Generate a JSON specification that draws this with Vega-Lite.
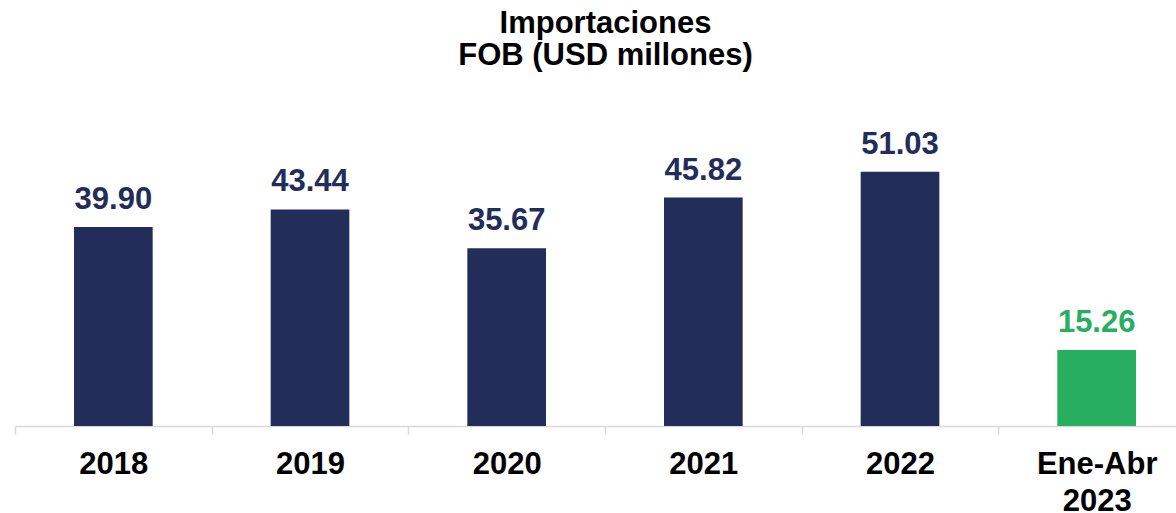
{
  "$schema": "https://vega.github.io/schema/vega-lite/v6.json",
  "autosize": {"type": "none"},
  "width": 1161,
  "height": 326,
  "padding": {"left": 15, "top": 100, "right": 0, "bottom": 87},
  "background": "white",
  "title": {
    "text": ["Importaciones", "FOB (USD millones)"],
    "font": "Liberation Sans",
    "fontSize": 31,
    "fontWeight": "bold",
    "lineHeight": 32,
    "color": "#000000",
    "anchor": "middle",
    "dx": 10,
    "offset": 28
  },
  "config": {
    "view": {"stroke": null},
    "font": "Liberation Sans"
  },
  "data": {
    "values": [
      {"periodo": "2018", "valor": 39.90, "tipo": "anual"},
      {"periodo": "2019", "valor": 43.44, "tipo": "anual"},
      {"periodo": "2020", "valor": 35.67, "tipo": "anual"},
      {"periodo": "2021", "valor": 45.82, "tipo": "anual"},
      {"periodo": "2022", "valor": 51.03, "tipo": "anual"},
      {"periodo": "Ene-Abr 2023", "valor": 15.26, "tipo": "parcial"}
    ]
  },
  "encoding": {
    "x": {
      "field": "periodo",
      "type": "nominal",
      "sort": null,
      "scale": {"range": [0, 1180], "paddingInner": 0.6, "paddingOuter": 0.3},
      "axis": {
        "title": null,
        "labelAngle": 0,
        "labelFont": "Liberation Sans",
        "labelFontSize": 31,
        "labelFontWeight": "bold",
        "labelColor": "#000000",
        "labelLineHeight": 37,
        "labelPadding": 15,
        "labelExpr": "datum.label == 'Ene-Abr 2023' ? ['Ene-Abr', '2023'] : datum.label",
        "domainColor": "#D9D9D9",
        "domainWidth": 1.5,
        "tickColor": "#D9D9D9",
        "tickWidth": 1.5,
        "tickSize": 8,
        "tickOffset": -98.33,
        "labelOffset": 98.33,
        "grid": false
      }
    },
    "y": {
      "field": "valor",
      "type": "quantitative",
      "scale": {"domain": [0, 65.4], "nice": false},
      "axis": null
    },
    "color": {
      "field": "tipo",
      "type": "nominal",
      "scale": {"domain": ["anual", "parcial"], "range": ["#222D59", "#27AE60"]},
      "legend": null
    }
  },
  "layer": [
    {"mark": {"type": "bar"}},
    {
      "mark": {
        "type": "text",
        "baseline": "alphabetic",
        "dy": -18,
        "font": "Liberation Sans",
        "fontSize": 31,
        "fontWeight": "bold"
      },
      "encoding": {
        "text": {"field": "valor", "type": "quantitative", "format": ".2f"}
      }
    }
  ]
}
